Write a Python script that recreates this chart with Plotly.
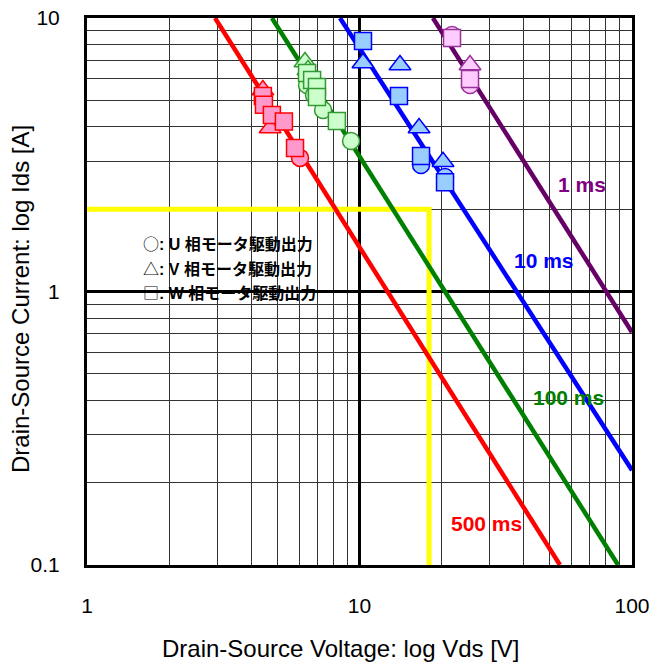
import plotly.graph_objects as go

# ---- data ----
# SOA boundary lines (Vds [V], Ids [A]) read at plot edges
line_names = ["500 ms", "100 ms", "10 ms", "1 ms"]
line_vds = {
    "500 ms": [2.95, 54.4],
    "100 ms": [4.77, 88.9],
    "10 ms": [8.48, 100],
    "1 ms": [18.6, 100],
}
line_ids = {
    "500 ms": [10, 0.1],
    "100 ms": [10, 0.1],
    "10 ms": [10, 0.222],
    "1 ms": [10, 0.71],
}

# yellow operating-limit box
yellow_vds = [1, 18, 18]
yellow_ids = [2, 2, 0.1]

# measured points: U (circle), V (triangle), W (square)
pts = {
    "500 ms": {
        "U": ([4.45, 6.05], [4.9, 3.08]),
        "V": ([4.42, 4.70], [5.45, 3.96]),
        "W": ([4.42, 4.46, 4.77, 5.28, 5.80], [5.19, 4.82, 4.42, 4.18, 3.35]),
    },
    "100 ms": {
        "U": ([6.42, 6.81, 7.35, 9.31], [5.69, 5.23, 4.61, 3.55]),
        "V": ([6.31, 6.47], [6.90, 6.46]),
        "W": ([6.42, 6.70, 6.98, 6.98, 8.26], [6.29, 5.93, 5.59, 5.14, 4.20]),
    },
    "10 ms": {
        "U": ([16.82, 20.6], [2.90, 2.62]),
        "V": ([10.30, 14.08, 16.54, 20.25], [6.85, 6.73, 3.96, 2.98]),
        "W": ([10.30, 13.96, 16.82, 20.6], [8.24, 5.19, 3.13, 2.51]),
    },
    "1 ms": {
        "U": ([21.85, 25.44], [8.67, 5.69]),
        "V": ([25.44], [6.73]),
        "W": ([21.85, 25.44], [8.45, 5.98]),
    },
}

x_tickvals = [1, 10, 100]
x_ticktext = ["1", "10", "100"]
y_tickvals = [0.1, 1, 10]
y_ticktext = ["0.1", "1", "10"]

legend_symbols = ["○", "△", "□"]
legend_phases = ["U", "V", "W"]
legend_suffix = "相モータ駆動出力"

# ---- styles ----
line_color = {"500 ms": "#FF0000", "100 ms": "#008000", "10 ms": "#0000FF", "1 ms": "#660066"}
fill_color = {"500 ms": "#FF99CC", "100 ms": "#CCFFCC", "10 ms": "#99CCFF", "1 ms": "#FFCCFF"}
edge_color = {"500 ms": "#FF0000", "100 ms": "#339933", "10 ms": "#0000FF", "1 ms": "#993399"}
symbols = {"U": "circle", "V": "triangle-up", "W": "square"}
label_pos = {"1 ms": (582, 185), "10 ms": (544, 260), "100 ms": (568, 397), "500 ms": (486, 523)}

# plot area in pixels
L, R, T, B = 87, 632, 18, 565
W, H = 650, 666
ARIAL = "Arial, Liberation Sans"
CJK = "Noto Sans CJK JP"

def px(xp):
    return (xp - L) / (R - L)

def py(yp):
    return (B - yp) / (B - T)

fig = go.Figure()

fig.add_trace(go.Scatter(x=yellow_vds, y=yellow_ids, mode="lines",
                         line=dict(color="#FFFF00", width=5), hoverinfo="skip"))

for n in line_names:
    fig.add_trace(go.Scatter(x=line_vds[n], y=line_ids[n], mode="lines",
                             line=dict(color=line_color[n], width=4.5), hoverinfo="skip"))

for n in line_names:
    for ph in ["U", "V", "W"]:
        xs, ys = pts[n][ph]
        fig.add_trace(go.Scatter(
            x=xs, y=ys, mode="markers",
            marker=dict(symbol=symbols[ph], size=17 if ph != "V" else 19,
                        color=fill_color[n],
                        line=dict(color=edge_color[n], width=1.5)),
            hoverinfo="skip"))

# legend box (white)
fig.add_shape(type="rect", xref="paper", yref="paper",
              x0=px(138), x1=px(323), y0=py(303), y1=py(211),
              fillcolor="white", line=dict(width=0), layer="between")

for i, (s, p) in enumerate(zip(legend_symbols, legend_phases)):
    txt = (f'<span style="font-family:{CJK}">{s}</span><b>: {p} </b>'
           f'<span style="font-family:{CJK}"><b>{legend_suffix}</b></span>')
    fig.add_annotation(xref="paper", yref="paper", x=px(141), y=py(243 + 24.5 * i),
                       text=txt, showarrow=False, xanchor="left", yanchor="middle",
                       font=dict(size=16, color="black", family=ARIAL))

for n, (xp, yp) in label_pos.items():
    fig.add_annotation(xref="paper", yref="paper", x=px(xp), y=py(yp),
                       text="<b>" + n + "</b>", showarrow=False, xanchor="center", yanchor="middle",
                       font=dict(size=21, color=line_color[n] if n != "1 ms" else "#800080",
                                 family=ARIAL))

# axis titles
fig.add_annotation(xref="paper", yref="paper", x=px(341), y=py(648),
                   text="Drain-Source Voltage: log Vds [V]", showarrow=False,
                   xanchor="center", yanchor="middle",
                   font=dict(size=24, color="black", family=ARIAL))
fig.add_annotation(xref="paper", yref="paper", x=px(20), y=py(299),
                   text="Drain-Source Current: log Ids [A]", showarrow=False, textangle=-90,
                   xanchor="center", yanchor="middle",
                   font=dict(size=24, color="black", family=ARIAL))

axis_common = dict(
    type="log", showline=True, linecolor="black", linewidth=3, mirror=True,
    showgrid=True, gridcolor="black", gridwidth=2.5, zeroline=False,
    ticks="", tickfont=dict(size=21, color="black", family=ARIAL),
    ticklabelstandoff=20, ticklabeloverflow="allow",
    minor=dict(dtick="D1", showgrid=True, gridcolor="#333333", gridwidth=1),
)

fig.update_xaxes(range=[0, 2], tickvals=x_tickvals, ticktext=x_ticktext, **axis_common)
fig.update_yaxes(range=[-1, 1], tickvals=y_tickvals, ticktext=y_ticktext, **axis_common)

fig.update_layout(
    width=W, height=H, showlegend=False,
    margin=dict(l=L, r=W - R, t=T, b=H - B, autoexpand=False),
    plot_bgcolor="white", paper_bgcolor="white",
)

fig.write_html("out.html", config={"displayModeBar": False},
               post_script="document.body.style.margin='0';")
